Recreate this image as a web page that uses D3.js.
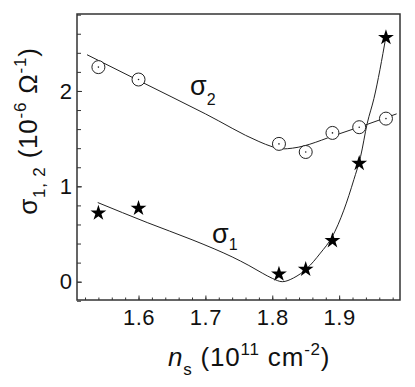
<!DOCTYPE html>
<meta charset="utf-8">
<script src="https://d3js.org/d3.v7.min.js"></script>
<style>
  body { margin: 0; background: #fff; }
  text { font-family: "Liberation Sans", Arial, sans-serif; fill: #111; }
</style>
<div id="chart"></div>
<script>
// measured points
var nsValues = [1.54, 1.60, 1.81, 1.85, 1.89, 1.93, 1.97];
var sigma1 = [0.72, 0.77, 0.08, 0.13, 0.43, 1.24, 2.56];
var sigma2 = [2.25, 2.12, 1.445, 1.36, 1.56, 1.62, 1.71];

// fitted curves
var fit1X = [1.539, 1.613, 1.680, 1.713, 1.740, 1.765, 1.785, 1.800, 1.815, 1.832, 1.852, 1.872, 1.8895, 1.907, 1.922, 1.932, 1.942, 1.952, 1.970];
var fit1Y = [0.83, 0.62, 0.44, 0.345, 0.26, 0.17, 0.09, 0.035, 0.0, 0.04, 0.14, 0.30, 0.47, 0.75, 1.07, 1.31, 1.66, 1.92, 2.57];
var fit2X = [1.523, 1.60, 1.70, 1.78, 1.80, 1.815, 1.83, 1.90, 1.986];
var fit2Y = [2.38, 2.11, 1.76, 1.47, 1.415, 1.392, 1.40, 1.55, 1.76];

var xTicks = [1.6, 1.7, 1.8, 1.9];
var yTicks = [0, 1, 2];

var margin = {top: 14, right: 15, bottom: 87, left: 77},
    width = 415 - margin.left - margin.right,
    height = 387 - margin.top - margin.bottom;

var svg = d3.select("#chart").append("svg")
    .attr("width", 415).attr("height", 387)
  .append("g")
    .attr("transform", "translate(" + margin.left + "," + margin.top + ")");

var x = d3.scaleLinear().domain([1.508, 1.991]).range([0, width]);
var y = d3.scaleLinear().domain([-0.192, 2.807]).range([height, 0]);

// frame
svg.append("rect")
    .attr("width", width).attr("height", height)
    .attr("fill", "none").attr("stroke", "#333").attr("stroke-width", 1.5);

// bottom axis: minor + major ticks pointing inward
svg.append("g")
    .attr("transform", "translate(0," + height + ")")
    .call(d3.axisBottom(x).tickValues(d3.range(1.52, 1.99, 0.02)).tickSize(-2.5).tickFormat(""))
    .call(function(g) { g.select(".domain").remove(); g.selectAll("line").attr("stroke", "#333"); });
svg.append("g")
    .attr("transform", "translate(0," + height + ")")
    .call(d3.axisBottom(x).tickValues(xTicks).tickSize(-4.5).tickPadding(9).tickFormat(d3.format(".1f")))
    .call(function(g) {
      g.select(".domain").remove();
      g.selectAll("line").attr("stroke", "#333");
      g.selectAll("text").style("font-size", "22px").style("letter-spacing", "0.5px").attr("fill", "#111");
    });

// left axis
svg.append("g")
    .call(d3.axisLeft(y).tickValues(d3.range(-0.2, 2.81, 0.2)).tickSize(-4).tickFormat(""))
    .call(function(g) { g.select(".domain").remove(); g.selectAll("line").attr("stroke", "#333"); });
svg.append("g")
    .call(d3.axisLeft(y).tickValues(yTicks).tickSize(-5).tickPadding(5).tickFormat(d3.format("d")))
    .call(function(g) {
      g.select(".domain").remove();
      g.selectAll("line").attr("stroke", "#333");
      g.selectAll("text").style("font-size", "22px").attr("fill", "#111");
    });

// fit lines
var line = d3.line()
    .x(function(d) { return x(d[0]); })
    .y(function(d) { return y(d[1]); })
    .curve(d3.curveMonotoneX);

svg.append("path")
    .datum(fit2X.map(function(v, i) { return [v, fit2Y[i]]; }))
    .attr("d", line).attr("fill", "none").attr("stroke", "#222").attr("stroke-width", 1);
svg.append("path")
    .datum(fit1X.map(function(v, i) { return [v, fit1Y[i]]; }))
    .attr("d", line).attr("fill", "none").attr("stroke", "#222").attr("stroke-width", 1);

// sigma2: open circles with a dot
var circ = svg.selectAll(".c2")
    .data(nsValues.map(function(v, i) { return [v, sigma2[i]]; }))
  .enter().append("g")
    .attr("transform", function(d) { return "translate(" + x(d[0]) + "," + y(d[1]) + ")"; });
circ.append("circle").attr("r", 6.5).attr("fill", "#fff").attr("stroke", "#222").attr("stroke-width", 1);
circ.append("circle").attr("r", 0.8).attr("fill", "#222");

// sigma1: filled stars
svg.selectAll(".s1")
    .data(nsValues.map(function(v, i) { return [v, sigma1[i]]; }))
  .enter().append("path")
    .attr("d", d3.symbol().type(d3.symbolStar).size(78))
    .attr("transform", function(d) { return "translate(" + x(d[0]) + "," + y(d[1]) + ")"; })
    .attr("fill", "#000");

// curve labels
var lab2 = svg.append("text").attr("x", x(1.677)).attr("y", y(1.957)).style("font-size", "27px");
lab2.append("tspan").text("σ");
lab2.append("tspan").attr("dy", 10).style("font-size", "16px").text("2");

var lab1 = svg.append("text").attr("x", x(1.710)).attr("y", y(0.402)).style("font-size", "27px");
lab1.append("tspan").text("σ");
lab1.append("tspan").attr("dy", 7).style("font-size", "16px").text("1");

// x axis title
var xt = svg.append("text")
    .attr("x", 168 - margin.left).attr("y", 366 - margin.top)
    .style("font-size", "26px").style("letter-spacing", "0.8px");
xt.append("tspan").style("font-style", "italic").text("n");
xt.append("tspan").attr("dy", 9).style("font-size", "17px").text("s");
xt.append("tspan").attr("dy", -9).text(" (10");
xt.append("tspan").attr("dy", -11).style("font-size", "17px").text("11");
xt.append("tspan").attr("dy", 11).text(" cm");
xt.append("tspan").attr("dy", -11).style("font-size", "17px").text("-2");
xt.append("tspan").attr("dy", 11).text(")");

// y axis title
var yt = svg.append("text")
    .attr("transform", "translate(-40," + (131 - margin.top) + ") rotate(-90)")
    .attr("text-anchor", "middle").style("font-size", "26px").style("letter-spacing", "0.8px");
yt.append("tspan").text("σ");
yt.append("tspan").attr("dy", 8).style("font-size", "17px").text("1, 2");
yt.append("tspan").attr("dy", -8).text(" (10");
yt.append("tspan").attr("dy", -11).style("font-size", "17px").text("-6");
yt.append("tspan").attr("dy", 11).text(" Ω");
yt.append("tspan").attr("dy", -11).style("font-size", "17px").text("-1");
yt.append("tspan").attr("dy", 11).text(")");
</script>
